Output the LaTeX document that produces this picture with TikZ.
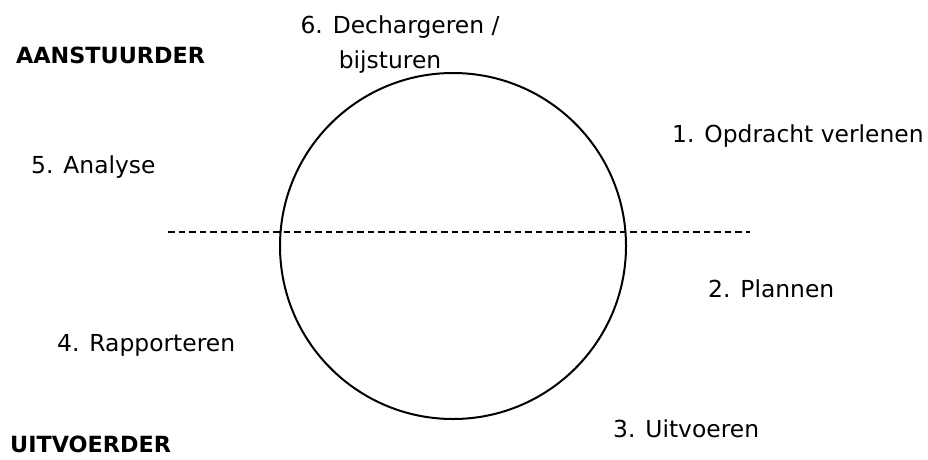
\documentclass[tikz,border=0pt]{standalone}
\usepackage{fontspec}
\setmainfont{DejaVu Sans}
\usetikzlibrary{positioning}

\tikzset{
  stap/.style={anchor=base west, inner sep=0pt, font=\fontsize{23.4}{28}\selectfont},
  rol/.style={anchor=base west, inner sep=0pt, font=\fontsize{22.3}{26}\selectfont\bfseries},
  cyclus/.style={draw, circle, line width=2pt, minimum size=346pt, inner sep=0pt},
  grens/.style={line width=2.2pt, dash pattern=on 6.5pt off 4pt}
}

\begin{document}
\begin{tikzpicture}[x=1pt, y=-1pt]
  \useasboundingbox (0,0) rectangle (928,459);

  % cirkel en scheidingslijn
  \node[cyclus] (cirkel) at (453,246) {};
  \coordinate (grens links) at (168,232);
  \coordinate (grens rechts) at (750,232);
  \draw[grens] (grens links) -- (grens rechts);

  % rollen
  \node[rol] (aanstuurder) at (16,63) {AANSTUURDER};
  \node[rol] (uitvoerder) at (10,452) {UITVOERDER};

  % stappen
  \node[stap] (opdracht) at (672,142) {1. Opdracht verlenen};
  \node[stap] (plannen) at (708,297) {2. Plannen};
  \node[stap] (uitvoeren) at (613,437) {3. Uitvoeren};
  \node[stap] (rapporteren) at (57,351) {4. Rapporteren};
  \node[stap] (analyse) at (31,173) {5. Analyse};
  \node[stap, anchor=base] (dechargeren) at (400,33) {6. Dechargeren /};
  \node[stap, anchor=base] (bijsturen) at (390,68) {bijsturen};
\end{tikzpicture}
\end{document}
